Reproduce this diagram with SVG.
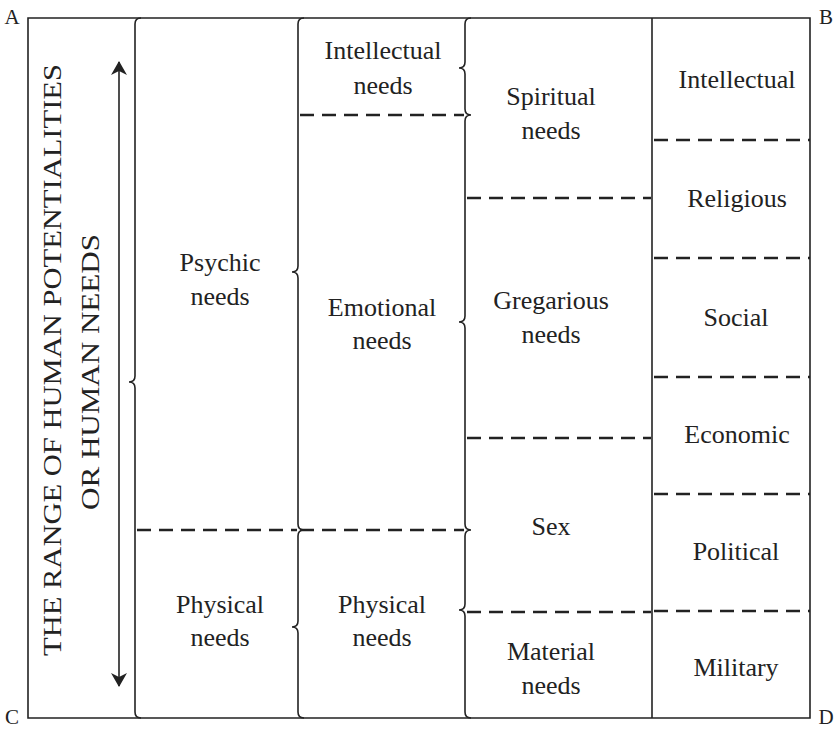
<svg xmlns="http://www.w3.org/2000/svg" width="839" height="733" viewBox="0 0 839 733">
<defs>
<style>
text{font-family:"Liberation Serif","DejaVu Serif",serif;fill:#222;font-size:26px;text-anchor:middle}
.s{stroke:#222;stroke-width:1.6;fill:none}
.d{stroke:#222;stroke-width:2.4;stroke-dasharray:14,8;fill:none}
.c{font-size:21px}
</style>
<marker id="ah" viewBox="0 0 14 16" refX="13" refY="8" markerWidth="14" markerHeight="16" orient="auto" markerUnits="userSpaceOnUse"><path d="M0,0 L14,8 L0,16 L4,8 Z" fill="#222"/></marker>
</defs>
<rect width="839" height="733" fill="#fff"/>
<g id="frame">
<path class="s" d="M28,18 H810 V718 H28 Z"/>
<text class="c" x="12" y="24">A</text>
<text class="c" x="826" y="24">B</text>
<text class="c" x="12" y="724">C</text>
<text class="c" x="826" y="724">D</text>
</g>
<g id="axis">
<line class="s" x1="119" y1="372" x2="119" y2="62" marker-end="url(#ah)" stroke-width="2.2"/>
<line class="s" x1="119" y1="372" x2="119" y2="686" marker-end="url(#ah)" stroke-width="2.2"/>
<text transform="translate(61,360) rotate(-90)" font-size="27" textLength="592" lengthAdjust="spacingAndGlyphs">THE RANGE OF HUMAN POTENTIALITIES</text>
<text transform="translate(99,372) rotate(-90)" font-size="27" textLength="276" lengthAdjust="spacingAndGlyphs">OR HUMAN NEEDS</text>
</g>
<g id="connectors">
<path class="s" d="M141,18 Q135,18 135,24 L135,376 Q135,382 129,382 Q135,382 135,388 L135,712 Q135,718 141,718"/>
<path class="s" d="M304,18 Q298,18 298,24 L298,266 Q298,272 292,272 Q298,272 298,278 L298,524 Q298,530 304,530 Q298,530 298,536 L298,621 Q298,627 292,627 Q298,627 298,633 L298,712 Q298,718 304,718"/>
<path class="s" d="M471,18 Q465,18 465,24 L465,62 Q465,68 459,68 Q465,68 465,74 L465,109 Q465,115 471,115 Q465,115 465,121 L465,316 Q465,322 459,322 Q465,322 465,328 L465,524 Q465,530 471,530 Q465,530 465,536 L465,604 Q465,610 459,610 Q465,610 465,616 L465,712 Q465,718 471,718"/>
<line class="s" x1="652" y1="18" x2="652" y2="718"/>
<line class="d" x1="137" y1="530" x2="297" y2="530"/>
<line class="d" x1="300" y1="115" x2="464" y2="115"/>
<line class="d" x1="300" y1="530" x2="464" y2="530"/>
<line class="d" x1="467" y1="198" x2="651" y2="198"/>
<line class="d" x1="467" y1="438" x2="651" y2="438"/>
<line class="d" x1="467" y1="612" x2="651" y2="612"/>
<line class="d" x1="654" y1="140" x2="810" y2="140"/>
<line class="d" x1="654" y1="258" x2="810" y2="258"/>
<line class="d" x1="654" y1="377" x2="810" y2="377"/>
<line class="d" x1="654" y1="494" x2="810" y2="494"/>
<line class="d" x1="654" y1="611" x2="810" y2="611"/>
</g>
<g id="psychic"><text x="220" y="271">Psychic</text><text x="220" y="305">needs</text></g>
<g id="physical1"><text x="220" y="613">Physical</text><text x="220" y="646">needs</text></g>
<g id="intellectual-needs"><text x="383" y="59">Intellectual</text><text x="383" y="94">needs</text></g>
<g id="emotional"><text x="382" y="316">Emotional</text><text x="382" y="349">needs</text></g>
<g id="physical2"><text x="382" y="613">Physical</text><text x="382" y="646">needs</text></g>
<g id="spiritual"><text x="551" y="105">Spiritual</text><text x="551" y="139">needs</text></g>
<g id="gregarious"><text x="551" y="309">Gregarious</text><text x="551" y="343">needs</text></g>
<g id="sex"><text x="551" y="535">Sex</text></g>
<g id="material"><text x="551" y="660">Material</text><text x="551" y="694">needs</text></g>
<g id="intellectual"><text x="737" y="88">Intellectual</text></g>
<g id="religious"><text x="737" y="207">Religious</text></g>
<g id="social"><text x="736" y="326">Social</text></g>
<g id="economic"><text x="737" y="443">Economic</text></g>
<g id="political"><text x="736" y="560">Political</text></g>
<g id="military"><text x="736" y="676">Military</text></g>
</svg>
